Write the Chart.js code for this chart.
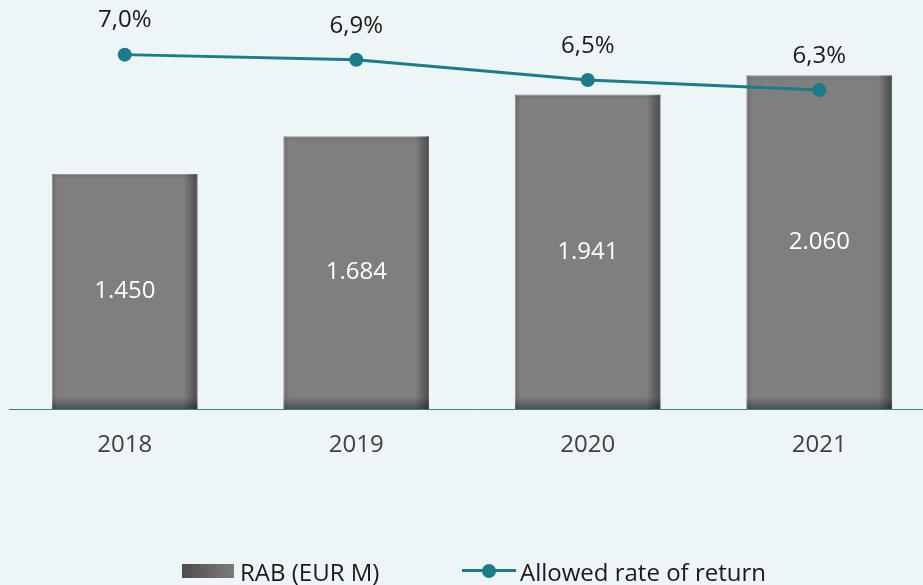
<!DOCTYPE html>
<html>
<head>
<meta charset="utf-8">
<title>RAB and allowed rate of return</title>
<script src="https://cdn.jsdelivr.net/npm/chart.js@4.4.1/dist/chart.umd.min.js"></script>
<style>
    html, body { margin: 0; padding: 0; overflow: hidden; background: #edf5f7; }
    #wrap { position: relative; width: 923px; height: 585px; overflow: hidden; }
    #chart-box { position: absolute; left: 0; top: 0; width: 935px; height: 585px; }
    #rab-chart { position: absolute; left: 0; top: 0; }
    .legend-text { position: absolute; top: 555px; line-height: 32px; font: 24px "Open Sans", sans-serif; color: #1a1a1a; white-space: nowrap; }
    .swatch-bar { position: absolute; left: 182px; top: 564px; width: 52px; height: 14px; background: linear-gradient(to right, #4c4c4c, #7c7c7c); }
    .swatch-line { position: absolute; left: 462px; top: 569px; width: 54px; height: 3px; background: #1b7d8a; }
    .swatch-dot { position: absolute; left: 482px; top: 564px; width: 14px; height: 14px; border-radius: 50%; background: #1b7d8a; }
</style>
</head>
<body>
<div id="wrap">
    <div id="chart-box">
        <canvas id="rab-chart" width="935" height="585"></canvas>
    </div>
    <div class="swatch-bar"></div>
    <div class="legend-text" style="left:240px;">RAB (EUR M)</div>
    <div class="swatch-line"></div>
    <div class="swatch-dot"></div>
    <div class="legend-text" style="left:520px;">Allowed rate of return</div>
</div>
<script>
// data
const years = ['2018', '2019', '2020', '2021'];
const rabValues = [1450, 1684, 1941, 2060];
const rabLabels = ['1.450', '1.684', '1.941', '2.060'];
const returnRates = [7.0, 6.9, 6.5, 6.3];
const returnLabels = ['7,0%', '6,9%', '6,5%', '6,3%'];

const TEAL = '#1b7d8a';
const FONT = '"Open Sans", sans-serif';

document.addEventListener('DOMContentLoaded', () => {
    const canvas = document.getElementById('rab-chart');

    // darkened right/bottom edges on the bars, like the bevel in the original
    const barShade = {
        id: 'barShade',
        afterDatasetDraw(chart, args) {
            if (args.index !== 0) return;
            const ctx = chart.ctx;
            args.meta.data.forEach(bar => {
                const left = bar.x - bar.width / 2;
                const right = bar.x + bar.width / 2;
                const top = bar.y;
                const base = bar.base;
                ctx.save();
                ctx.beginPath();
                ctx.rect(left, top, right - left, base - top);
                ctx.clip();

                let g = ctx.createLinearGradient(right - 14, 0, right, 0);
                g.addColorStop(0, 'rgba(0,0,0,0)');
                g.addColorStop(1, 'rgba(0,0,0,0.42)');
                ctx.fillStyle = g;
                ctx.fillRect(right - 14, top, 14, base - top);

                g = ctx.createLinearGradient(0, base - 12, 0, base);
                g.addColorStop(0, 'rgba(0,0,0,0)');
                g.addColorStop(1, 'rgba(0,0,0,0.38)');
                ctx.fillStyle = g;
                ctx.fillRect(left, base - 12, right - left, 12);

                g = ctx.createLinearGradient(left, 0, left + 6, 0);
                g.addColorStop(0, 'rgba(0,0,0,0.15)');
                g.addColorStop(1, 'rgba(0,0,0,0)');
                ctx.fillStyle = g;
                ctx.fillRect(left, top, 6, base - top);

                g = ctx.createLinearGradient(0, top, 0, top + 5);
                g.addColorStop(0, 'rgba(0,0,0,0.12)');
                g.addColorStop(1, 'rgba(0,0,0,0)');
                ctx.fillStyle = g;
                ctx.fillRect(left, top, right - left, 5);
                ctx.restore();
            });
        }
    };

    // value labels: inside the bars and above the line points
    const valueLabels = {
        id: 'valueLabels',
        afterDatasetsDraw(chart) {
            const ctx = chart.ctx;
            ctx.save();
            ctx.font = '24px ' + FONT;
            ctx.textAlign = 'center';
            ctx.textBaseline = 'middle';

            ctx.fillStyle = '#ffffff';
            chart.getDatasetMeta(0).data.forEach((bar, i) => {
                ctx.fillText(rabLabels[i], bar.x, (bar.y + bar.base) / 2);
            });

            ctx.fillStyle = '#1a1a1a';
            chart.getDatasetMeta(1).data.forEach((pt, i) => {
                ctx.fillText(returnLabels[i], pt.x, pt.y - 34);
            });
            ctx.restore();
        }
    };

    new Chart(canvas.getContext('2d'), {
        type: 'bar',
        data: {
            labels: years,
            datasets: [
                {
                    type: 'bar',
                    label: 'RAB (EUR M)',
                    data: rabValues,
                    backgroundColor: '#7f7f7f',
                    borderColor: '#a9a9a9',
                    borderWidth: 1,
                    barPercentage: 1,
                    categoryPercentage: 0.63,
                    yAxisID: 'y',
                    order: 2
                },
                {
                    type: 'line',
                    label: 'Allowed rate of return',
                    data: returnRates,
                    borderColor: TEAL,
                    backgroundColor: TEAL,
                    borderWidth: 3,
                    pointRadius: 7,
                    pointBorderWidth: 0,
                    pointBackgroundColor: TEAL,
                    tension: 0,
                    yAxisID: 'y2',
                    order: 1
                }
            ]
        },
        options: {
            responsive: false,
            animation: false,
            layout: { autoPadding: false, padding: { left: 9, top: 4, right: 0, bottom: 0 } },
            plugins: {
                legend: { display: false },
                tooltip: { enabled: false }
            },
            scales: {
                x: {
                    grid: { display: false, drawTicks: false },
                    border: { display: true, color: '#2f8590', width: 1 },
                    ticks: { color: '#404040', font: { family: FONT, size: 24 }, padding: 22 },
                    afterFit: s => { s.height = 176; }
                },
                y: { display: false, min: 0, max: 2500 },
                y2: { display: false, min: 0, max: 8, position: 'right' }
            }
        },
        plugins: [barShade, valueLabels]
    });
});
</script>
</body>
</html>
